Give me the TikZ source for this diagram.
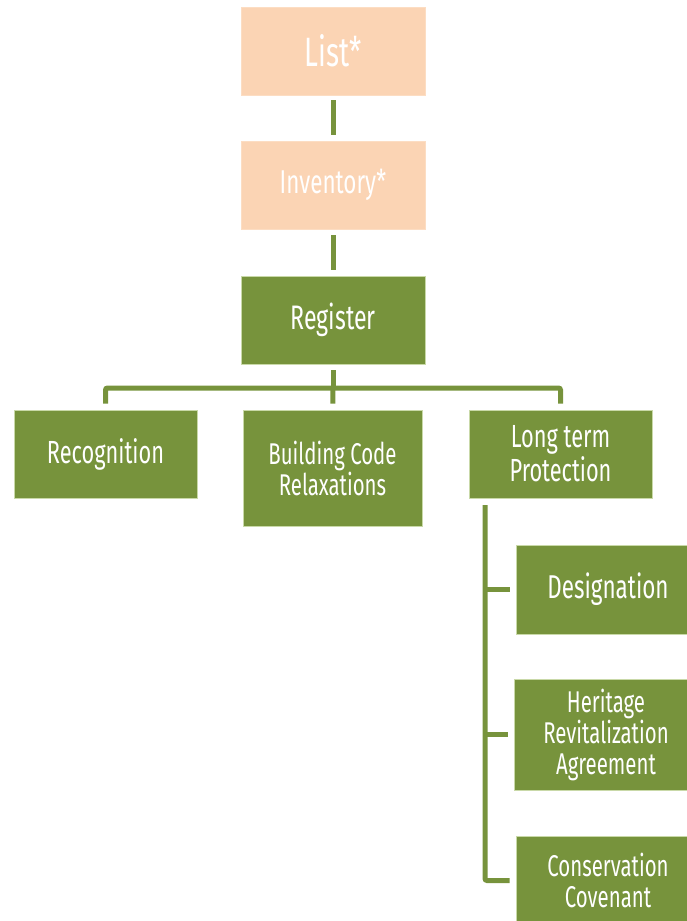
\documentclass[tikz,border=0pt]{standalone}
\usepackage{fontspec}
\setmainfont[FakeStretch=0.68]{Fira Sans}
\usetikzlibrary{positioning}
\definecolor{peach}{HTML}{FBD4B4}
\definecolor{olive}{HTML}{77933C}
\definecolor{rim}{HTML}{C9D9A8}

\begin{document}
\begin{tikzpicture}[x=1pt,y=-1pt,
    box/.style={rectangle,draw=rim,line width=0.8pt,fill=olive,text=white,
      align=center,minimum width=184pt,minimum height=88pt,inner sep=0pt},
    pale/.style={box,fill=peach,draw=peach!80!white},
    link/.style={olive,line width=5pt,rounded corners=2pt}]
  \useasboundingbox (0,0) rectangle (687,921);

  % top chain
  \node[pale,font=\fontsize{41}{43}\selectfont] (list) at (333,51) {List*};
  \node[pale,font=\fontsize{33}{35}\selectfont] (inventory) at (333,185) {Inventory*};
  \node[box,font=\fontsize{34}{36}\selectfont] (register) at (333,320) {Register};

  % second row
  \node[box,minimum width=183pt,font=\fontsize{32}{34}\selectfont] (recognition) at (105.5,454) {Recognition};
  \node[box,minimum width=179pt,minimum height=116pt,font=\fontsize{30}{31}\selectfont] (building) at (332.5,468) {Building Code\\Relaxations};
  \node[box,minimum width=183pt,font=\fontsize{32}{34}\selectfont] (protection) at (560.5,454) {Long term\\Protection};

  % protection tools
  \node[box,minimum height=89pt,font=\fontsize{33}{35}\selectfont] (designation) at (608,589.5) {Designation};
  \node[box,minimum height=111pt,font=\fontsize{30}{31}\selectfont] (heritage) at (606,734.5) {Heritage\\Revitalization\\Agreement};
  \node[box,minimum height=89pt,font=\fontsize{30}{31}\selectfont] (conservation) at (608,880.5) {Conservation\\Covenant};

  \coordinate (fork) at (333,388);
  \coordinate (spine) at (485,505);

  \draw[link,shorten <=5pt,shorten >=6pt] (list) -- (inventory);
  \draw[link,shorten <=6pt,shorten >=6pt] (inventory) -- (register);
  \draw[link,shorten <=6pt] (register) -- (fork);
  \draw[link,shorten <=6pt,shorten >=6pt] (recognition) |- (fork) -| (protection);
  \draw[link,shorten >=6pt] (fork) -- (building);
  \draw[link,shorten >=6pt] (spine) |- (conservation);
  \draw[link,shorten >=6pt] (spine |- designation) -- (designation);
  \draw[link,shorten >=6pt] (spine |- heritage) -- (heritage);
\end{tikzpicture}
\end{document}
